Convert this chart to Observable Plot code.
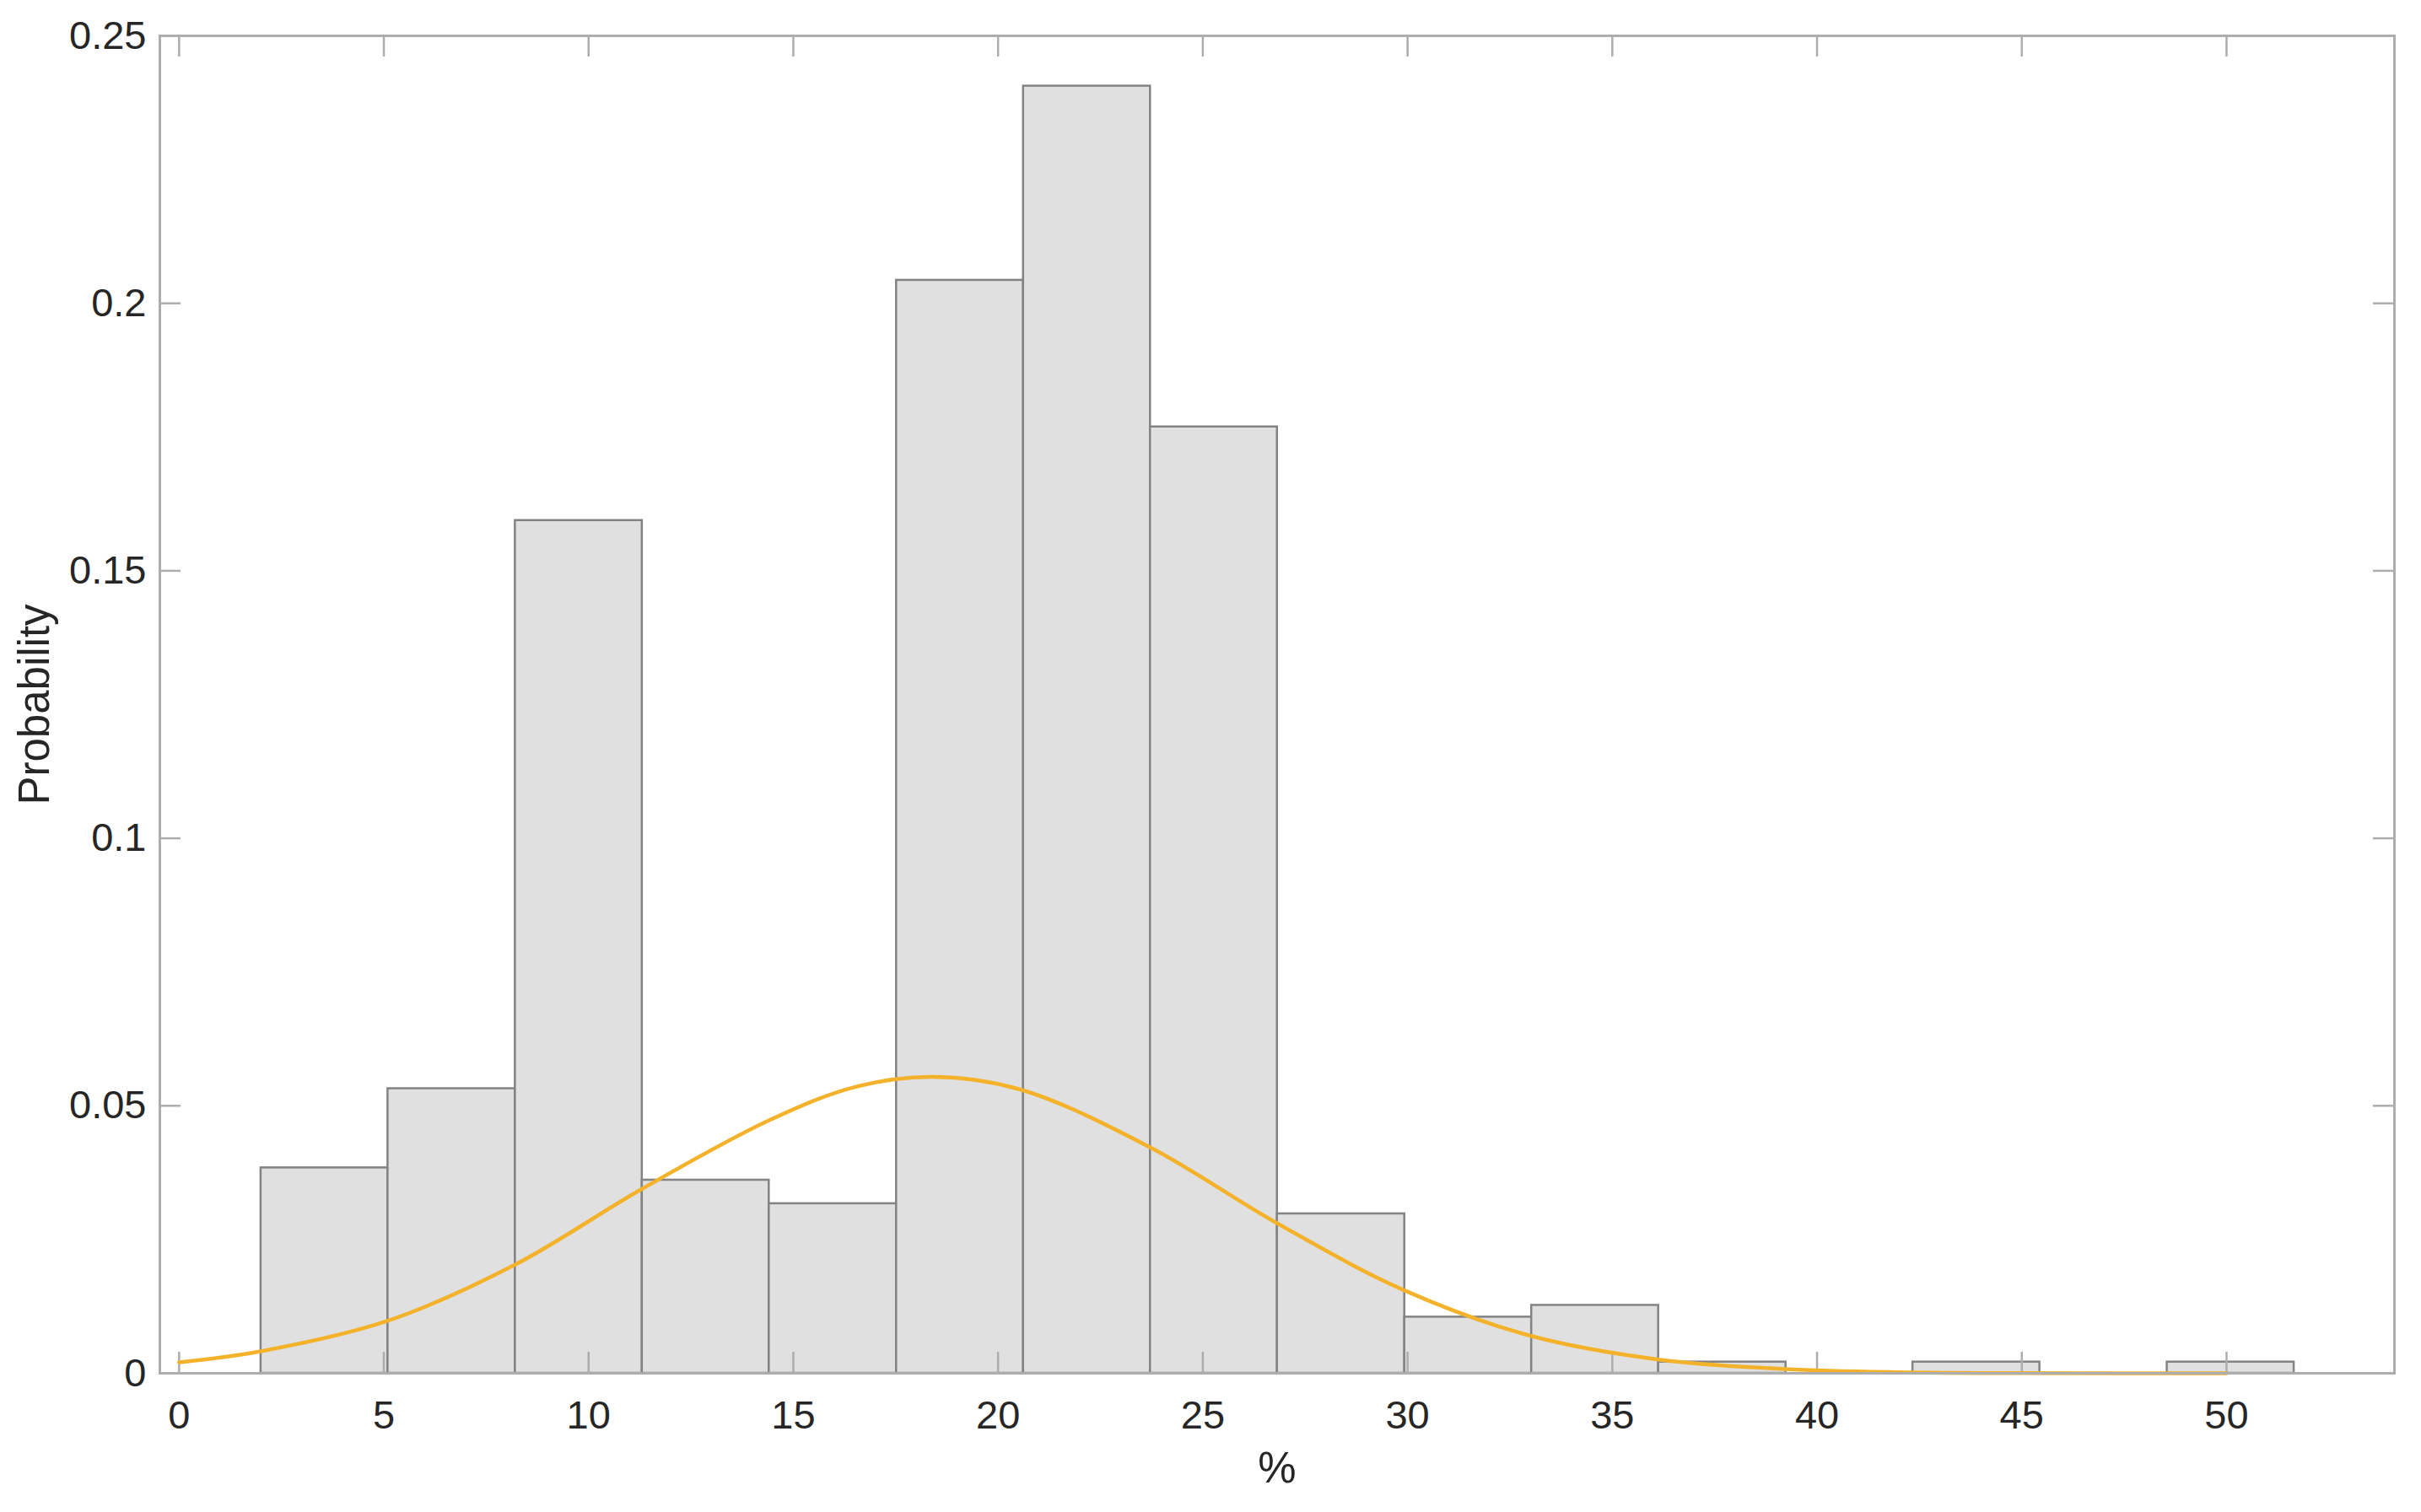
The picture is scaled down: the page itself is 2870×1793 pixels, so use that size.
<!DOCTYPE html>
<html>
<head>
<meta charset="utf-8">
<script src="https://cdn.jsdelivr.net/npm/d3@7"></script>
<script src="https://cdn.jsdelivr.net/npm/@observablehq/plot@0.6"></script>
<style>
  html, body { margin: 0; padding: 0; background: #ffffff; }
  #chart svg { display: block; }
</style>
</head>
<body>
<div id="chart"></div>
<script>
// Histogram bin edges (%)
const binEdges = [2.0, 5.10, 8.21, 11.31, 14.41, 17.52, 20.62, 23.72, 26.82, 29.93, 33.03, 36.13, 39.24, 42.34, 45.44, 48.55, 51.65];
// Probability per bin
const binProb = [0.0384, 0.0532, 0.1594, 0.0361, 0.0317, 0.2043, 0.2406, 0.1769, 0.0298, 0.0105, 0.0127, 0.0021, 0, 0.0021, 0, 0.0021];

// Fitted curve, points
const curveX = [0, 2.02, 5.05, 8.18, 11.29, 14.44, 16.5, 18.39, 20.56, 23.72, 26.8, 29.92, 32.98, 36.13, 39.2, 42.0, 45.0, 50.0];
const curveY = [0.00205, 0.00415, 0.0097, 0.0202, 0.0344, 0.0474, 0.0535, 0.0554, 0.0530, 0.0422, 0.0281, 0.0155, 0.00705, 0.00257, 0.0008, 0.0002, 0.00003, 0];

// Axis ticks and labels
const xTicks = [0, 5, 10, 15, 20, 25, 30, 35, 40, 45, 50];
const xTickLabels = ["0", "5", "10", "15", "20", "25", "30", "35", "40", "45", "50"];
const yTicks = [0, 0.05, 0.1, 0.15, 0.2, 0.25];
const yTickLabels = ["0", "0.05", "0.1", "0.15", "0.2", "0.25"];
const xLabel = "%";
const yLabel = "Probability";

const bins = binProb.map((p, i) => ({x0: binEdges[i], x1: binEdges[i + 1], p}));
const curve = curveX.map((x, i) => ({x, y: curveY[i]}));

const W = 2870, H = 1793;
const mL = 189, mR = 32, mT = 42, mB = 165;
const innerW = W - mL - mR, innerH = H - mT - mB;
const tickLen = 25;
const axisGray = "#adadad";
const textColor = "#262626";

const chart = Plot.plot({
  width: W,
  height: H,
  marginLeft: mL,
  marginRight: mR,
  marginTop: mT,
  marginBottom: mB,
  style: {fontFamily: "'Liberation Sans', Arial, Helvetica, sans-serif", background: "#ffffff", color: textColor},
  x: {domain: [-0.47, 54.1]},
  y: {domain: [0, 0.25]},
  marks: [
    Plot.rectY(bins.filter(d => d.p > 0), {x1: "x0", x2: "x1", y: "p", fill: "#e0e0e0", stroke: "#838383", strokeWidth: 2.5}),
    // inward ticks on all four sides
    Plot.ruleX(xTicks, {x: d => d, insetTop: innerH - tickLen, stroke: axisGray, strokeWidth: 2.5}),
    Plot.ruleX(xTicks, {x: d => d, insetBottom: innerH - tickLen, stroke: axisGray, strokeWidth: 2.5}),
    Plot.ruleY(yTicks, {y: d => d, insetRight: innerW - tickLen, stroke: axisGray, strokeWidth: 2.5}),
    Plot.ruleY(yTicks, {y: d => d, insetLeft: innerW - tickLen, stroke: axisGray, strokeWidth: 2.5}),
    Plot.lineY(curve, {x: "x", y: "y", stroke: "#f4b22a", strokeWidth: 4.5, curve: "catmull-rom"}),
    Plot.frame({stroke: axisGray, strokeWidth: 3}),
    Plot.axisX(xTicks, {tickSize: 0, tickPadding: 32, fontSize: 47, fill: textColor, tickFormat: (d) => xTickLabels[xTicks.indexOf(d)], label: null}),
    Plot.axisY(yTicks, {tickSize: 0, tickPadding: 16, fontSize: 47, fill: textColor, tickFormat: (d) => yTickLabels[yTicks.indexOf(d)], label: null}),
    Plot.text([xLabel], {text: d => d, frameAnchor: "bottom", dy: 113, fontSize: 51, fill: textColor, textAnchor: "middle", lineAnchor: "middle"}),
    Plot.text([yLabel], {text: d => d, frameAnchor: "left", dx: -148, rotate: -90, fontSize: 51, fill: textColor, textAnchor: "middle", lineAnchor: "middle"})
  ]
});
document.getElementById("chart").appendChild(chart);
</script>
</body>
</html>
